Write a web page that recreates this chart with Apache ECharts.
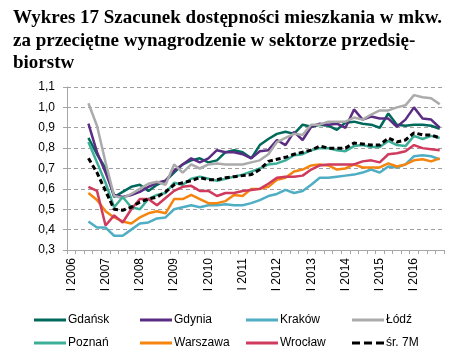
<!DOCTYPE html>
<html>
<head>
<meta charset="utf-8">
<script src="https://cdn.jsdelivr.net/npm/echarts@6/dist/echarts.min.js"></script>
<style>
html,body{margin:0;padding:0;background:#fff;}
#chart{width:454px;height:358px;}
</style>
</head>
<body>
<div id="chart"></div>
<script>
// ---- data ----
var years = ['2006','2007','2008','2009','2010','2011','2012','2013','2014','2015','2016'];
var quarters = ['I','II','III','IV'];
var yTicks = ['0,3','0,4','0,5','0,6','0,7','0,8','0,9','1,0','1,1'];

var gdansk = [null,null,0.85,0.77,0.70,0.56,0.585,0.61,0.62,0.59,0.62,0.64,0.68,0.72,0.74,0.75,0.73,0.74,0.78,0.79,0.78,0.75,0.815,0.845,0.87,0.88,0.87,0.915,0.905,0.915,0.91,0.89,0.925,0.93,0.92,0.915,0.90,0.97,0.915,0.91,0.915,0.915,0.91,0.895];
var gdynia = [null,null,0.92,0.78,0.68,0.57,0.56,0.57,0.585,0.61,0.63,0.64,0.69,0.72,0.75,0.73,0.75,0.79,0.78,0.78,0.77,0.75,0.785,0.79,0.84,0.815,0.88,0.84,0.905,0.92,0.915,0.92,0.90,0.99,0.94,0.955,0.945,0.945,0.905,0.94,1.00,0.945,0.94,0.90];
var krakow = [null,null,0.44,0.41,0.41,0.37,0.37,0.40,0.43,0.435,0.455,0.46,0.50,0.51,0.52,0.51,0.52,0.52,0.525,0.52,0.52,0.53,0.545,0.565,0.575,0.595,0.58,0.59,0.62,0.655,0.655,0.66,0.665,0.67,0.68,0.695,0.68,0.71,0.705,0.72,0.76,0.765,0.76,0.745];
var lodz = [null,null,1.02,0.91,0.73,0.565,0.555,0.575,0.60,0.625,0.635,0.62,0.72,0.68,0.72,0.70,0.72,0.725,0.72,0.72,0.72,0.73,0.74,0.77,0.83,0.85,0.87,0.865,0.915,0.915,0.93,0.93,0.93,0.95,0.94,0.965,0.985,0.985,1.00,1.01,1.06,1.05,1.045,1.015];
var poznan = [null,null,0.83,0.73,0.63,0.51,0.56,0.51,0.50,0.55,0.57,0.58,0.63,0.62,0.65,0.66,0.65,0.64,0.65,0.66,0.67,0.685,0.70,0.72,0.725,0.74,0.765,0.77,0.79,0.80,0.80,0.79,0.785,0.81,0.815,0.805,0.805,0.835,0.815,0.81,0.86,0.845,0.86,0.85];
var warszawa = [null,null,0.58,0.545,0.49,0.46,0.44,0.43,0.46,0.48,0.49,0.48,0.55,0.55,0.57,0.55,0.53,0.53,0.54,0.57,0.565,0.60,0.60,0.61,0.645,0.655,0.685,0.695,0.715,0.72,0.715,0.695,0.70,0.72,0.705,0.705,0.705,0.725,0.71,0.72,0.74,0.745,0.735,0.75];
var wroclaw = [null,null,0.61,0.59,0.42,0.47,0.435,0.50,0.55,0.55,0.52,0.555,0.59,0.61,0.615,0.59,0.59,0.565,0.58,0.58,0.59,0.595,0.60,0.625,0.655,0.66,0.66,0.665,0.695,0.715,0.72,0.72,0.72,0.72,0.735,0.74,0.73,0.77,0.775,0.785,0.815,0.80,0.795,0.79];
var sr7m = [null,null,0.75,0.68,0.59,0.50,0.495,0.51,0.535,0.55,0.56,0.585,0.62,0.63,0.64,0.655,0.645,0.645,0.655,0.66,0.665,0.67,0.695,0.735,0.745,0.755,0.77,0.78,0.79,0.81,0.80,0.80,0.80,0.825,0.82,0.815,0.815,0.85,0.83,0.84,0.875,0.865,0.865,0.85];

var categories = [];
years.forEach(function(y){ quarters.forEach(function(q){ categories.push(q + ' ' + y); }); });

var seriesDefs = [
  {name:'Gdańsk', data:gdansk, color:'#00695C'},
  {name:'Gdynia', data:gdynia, color:'#5B2C83'},
  {name:'Kraków', data:krakow, color:'#4FADC4'},
  {name:'Łódź', data:lodz, color:'#ABABAB'},
  {name:'Poznań', data:poznan, color:'#3DAE98'},
  {name:'Warszawa', data:warszawa, color:'#F5850F'},
  {name:'Wrocław', data:wroclaw, color:'#D03A5C'},
  {name:'śr. 7M', data:sr7m, color:'#000000', dash:true}
];

var legendCols = [29, 135, 241, 347];
var legendRows = [309, 332];
var solidIcon = 'path://M0,0H32V3H0Z';
var dashIcon = 'path://M0,0H8V3H0Z M12,0H20V3H12Z M24,0H32V3H24Z';

var legends = seriesDefs.map(function(s, i){
  return {
    left: legendCols[i % 4], top: legendRows[Math.floor(i / 4)],
    itemWidth: 32, itemHeight: 3, itemGap: 0, symbolKeepAspect: false,
    textStyle: {fontFamily:'Liberation Sans', fontSize:12, color:'#000', padding:[0,0,0,-3]},
    data: [{name: s.name, icon: s.dash ? dashIcon : solidIcon, itemStyle:{color:s.color}}]
  };
});

var chart = echarts.init(document.getElementById('chart'), null, {renderer:'canvas'});
chart.setOption({
  animation:false,
  backgroundColor:'#fff',
  title:{
    text:'Wykres 17 Szacunek dostępności mieszkania w mkw.\nza przeciętne wynagrodzenie w sektorze przedsię-\nbiorstw',
    left:8, top:2,
    textStyle:{fontFamily:'Liberation Serif', fontWeight:'bold', fontSize:19, lineHeight:22.5, color:'#000'}
  },
  grid:{left:67, right:10, top:87, bottom:108, containLabel:false},
  legend: legends,
  xAxis:{
    type:'category', data:categories, boundaryGap:true,
    axisLine:{lineStyle:{color:'#A6A6A6', width:1}},
    axisTick:{show:true, interval:0, length:4, lineStyle:{color:'#A6A6A6'}},
    axisLabel:{
      rotate:90, margin:8, fontFamily:'Liberation Sans', fontSize:12, color:'#000',
      interval:function(idx){ return idx % 4 === 0; }
    },
    splitLine:{show:false}
  },
  yAxis:{
    type:'value', min:0.3, max:1.1, interval:0.1,
    axisLine:{show:true, lineStyle:{color:'#A6A6A6', width:1}},
    axisTick:{show:true, length:4, lineStyle:{color:'#A6A6A6'}},
    axisLabel:{fontFamily:'Liberation Sans', fontSize:12, color:'#000', margin:12,
      formatter:function(v){ var i = Math.round((v-0.3)*10); return yTicks[i]; }},
    splitLine:{show:true, lineStyle:{color:'#A0A0A0', type:[4,3], width:1}}
  },
  series:seriesDefs.map(function(s){
    return {
      name:s.name, type:'line', data:s.data, symbol:'none', smooth:false,
      connectNulls:false,
      lineStyle:{color:s.color, width:s.dash?3:2.5, type:s.dash?[5,3]:'solid'},
      itemStyle:{color:s.color}
    };
  })
});
</script>
</body>
</html>
